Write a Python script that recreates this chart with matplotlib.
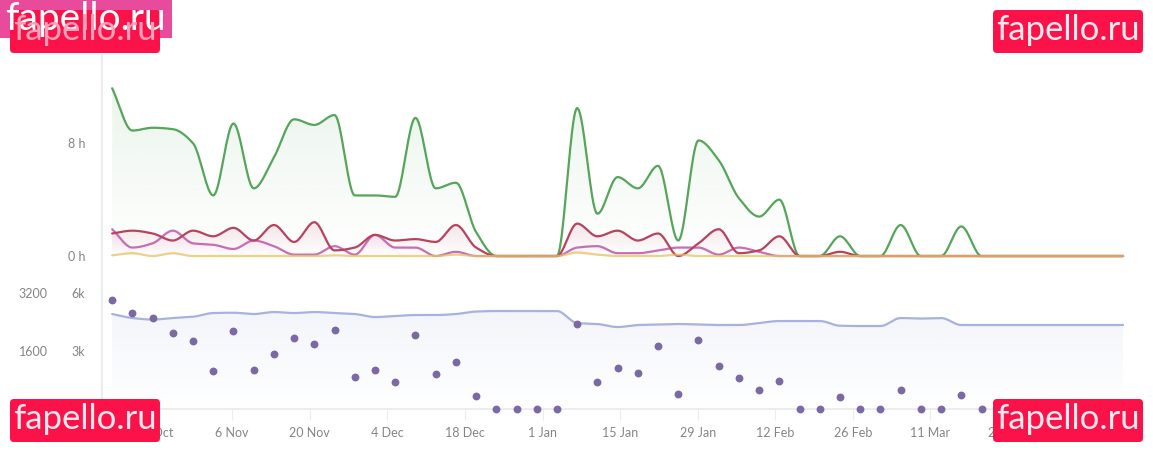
"""Activity chart: hours per period on top, counts below, with site stamps over it."""
import matplotlib
matplotlib.use("Agg")
import matplotlib.dates as mdates
import matplotlib.pyplot as plt
import numpy as np
import pandas as pd
from matplotlib.patches import FancyBboxPatch, PathPatch
from matplotlib.path import Path
from matplotlib.colors import to_rgb

plt.rcParams["font.family"] = ["Lato", "DejaVu Sans"]

W, H = 1153, 453
GREY = "#858585"
AXIS = "#ececec"

periods = pd.date_range("2023-10-15 08:00", "2024-04-14 18:00", periods=51)

green_h = [11.9, 8.9, 9.1, 9.0, 8.0, 4.3, 9.4, 4.8, 7.0, 9.7, 9.3, 10.0, 4.3, 4.3, 4.2, 9.8, 4.8,
           5.2, 1.7, 0, 0, 0, 0, 10.5, 3.0, 5.6, 4.8, 6.4, 1.1, 8.2, 6.8, 4.1, 2.8, 4.0, 0, 0,
           1.4, 0, 0, 2.2, 0, 0, 2.1, 0, 0, 0, 0, 0, 0, 0, 0]
crimson_h = [1.6, 1.8, 1.6, 1.1, 1.8, 1.4, 2.0, 1.1, 2.2, 1.0, 2.4, 0.4, 0.6, 1.5, 1.1, 1.2, 1.0,
             2.2, 0.6, 0, 0, 0, 0, 2.3, 1.4, 1.8, 1.1, 1.6, 0, 0.9, 1.9, 0.2, 0.4, 1.4, 0, 0,
             0.3, 0, 0, 0, 0, 0, 0, 0, 0, 0, 0, 0, 0, 0, 0]
pink_h = [1.9, 0.6, 0.9, 1.8, 0.9, 0.8, 0.5, 1.1, 0.7, 0.1, 0.1, 0.7, 0.1, 1.5, 0.6, 0.6, 0, 0.3,
          0, 0, 0, 0, 0, 0.6, 0.7, 0.2, 0.2, 0.4, 0.6, 0.6, 0.1, 0.6, 0.3, 0, 0, 0,
          0, 0, 0, 0, 0, 0, 0, 0, 0, 0, 0, 0, 0, 0, 0]
yellow_h = [0.05, 0.2, 0, 0.2, 0, 0, 0, 0, 0, 0, 0, 0.05, 0, 0, 0, 0, 0, 0.1,
            0, 0, 0, 0, 0, 0.25, 0.1, 0, 0, 0, 0.1, 0, 0, 0, 0, 0, 0, 0,
            0, 0, 0, 0, 0, 0, 0, 0, 0, 0, 0, 0, 0, 0, 0]
blue_line = [4912, 4705, 4627, 4705, 4772, 4963, 4979, 4912, 5015, 4963, 5015, 4963, 4912, 4756,
             4808, 4860, 4860, 4912, 5041, 5067, 5067, 5067, 5067, 4446, 4395, 4239, 4343, 4369,
             4395, 4369, 4343, 4343, 4446, 4550, 4550, 4550, 4307, 4291, 4291, 4705, 4679, 4705,
             4343, 4343, 4343, 4343, 4343, 4343, 4343, 4343, 4343]
dots = [3005, 2645, 2505, 2090, 1865, 1060, 2145, 1085, 1530, 1950, 1780, 2170, 890, 1085, 750,
        2030, 975, 1310, 360, 0, 0, 0, 0, 2340, 750, 1140, 1000, 1725, 420, 1890, 1195, 865,
        530, 780, 0, 0, 335, 0, 0, 530, 0, 0, 390, 0, 0, 0, 0, 0, 0, 0, 0]

tick_dates = ["2023-10-23", "2023-11-06", "2023-11-20", "2023-12-04", "2023-12-18", "2024-01-01",
              "2024-01-15", "2024-01-29", "2024-02-12", "2024-02-26", "2024-03-11", "2024-03-25",
              "2024-04-08"]
tick_labels = ["23 Oct", "6 Nov", "20 Nov", "4 Dec", "18 Dec", "1 Jan", "15 Jan", "29 Jan",
               "12 Feb", "26 Feb", "11 Mar", "25 Mar", "8 Apr"]


def smooth(x, y, n=20):
    # monotone cubic, same look as the chart: flat at the peaks, no dip under zero
    x, y = np.asarray(x, float), np.asarray(y, float)
    h = np.diff(x)
    d = np.diff(y) / h
    m = np.zeros_like(y)
    m[0], m[-1] = d[0], d[-1]
    for i in range(1, len(y) - 1):
        if d[i - 1] * d[i] > 0:
            m[i] = 2 * d[i - 1] * d[i] / (d[i - 1] + d[i])
    xs, ys = [], []
    for i in range(len(h)):
        t = np.linspace(0, 1, n, endpoint=False)
        xs.append(x[i] + t * h[i])
        ys.append((2 * t**3 - 3 * t**2 + 1) * y[i] + (t**3 - 2 * t**2 + t) * h[i] * m[i]
                  + (-2 * t**3 + 3 * t**2) * y[i + 1] + (t**3 - t**2) * h[i] * m[i + 1])
    return np.append(np.concatenate(xs), x[-1]), np.append(np.concatenate(ys), y[-1])


def area(ax, x, y, color, top_alpha=0.15, lw=1.6, line_alpha=1.0, zorder=3):
    sx, sy = smooth(x, y)
    ramp = np.zeros((256, 1, 4))
    ramp[..., :3] = to_rgb(color)
    ramp[..., 3] = np.linspace(top_alpha, 0, 256)[:, None]
    im = ax.imshow(ramp, extent=(sx[0], sx[-1], 0, max(sy)), aspect="auto", origin="upper",
                   zorder=zorder - 1, interpolation="bilinear")
    verts = np.column_stack([np.r_[sx[0], sx, sx[-1]], np.r_[0, sy, 0]])
    patch = PathPatch(Path(verts), fc="none", ec="none", transform=ax.transData)
    ax.add_patch(patch)
    im.set_clip_path(patch)
    ax.plot(sx, sy, color=color, lw=lw, alpha=line_alpha, zorder=zorder, solid_capstyle="round")


def stamp(ax, x, y, text_color="#ffe9ee"):
    ax.add_patch(FancyBboxPatch((x, y), 150, 43, boxstyle="round,pad=0,rounding_size=4",
                                fc="#fb1249", ec="none"))
    ax.text(x + 75, y + 20, "fapello.ru", color=text_color, fontsize=25, ha="center", va="center")


x = mdates.date2num(periods)
left = mdates.date2num(pd.Timestamp("2023-10-13 12:00"))
right = mdates.date2num(pd.Timestamp("2024-04-16 00:00"))
fig = plt.figure(figsize=(W / 100, H / 100), dpi=100)

# upper panel: hours
ax = fig.add_axes([102 / W, 1 - 280 / H, 1028 / W, 225 / H])
area(ax, x, green_h, "#55a55a", 0.12, zorder=3)
area(ax, x, pink_h, "#c86fb8", 0.12, zorder=4)
area(ax, x, crimson_h, "#b8435f", 0.13, zorder=5)
area(ax, x, yellow_h, "#e9c25c", 0.1, zorder=6, line_alpha=0.75)
ax.set_xlim(left, right)
ax.set_ylim(-1.70, 14.26)
ax.set_yticks([0, 8], ["0 h", "8 h"])
ax.set_xticks([])
ax.tick_params(axis="y", length=0, pad=12, labelsize=9, labelcolor=GREY)
for name in ("top", "right", "bottom"):
    ax.spines[name].set_visible(False)
ax.spines["left"].set_color(AXIS)
ax.spines["left"].set_linewidth(1.5)

# lower panel: line on the k axis, dots on the other one
ax2 = fig.add_axes([102 / W, 1 - 409 / H, 1028 / W, 129 / H])
area(ax2, x, blue_line, "#a8b2dc", 0.13, zorder=3)
ax2.set_xlim(left, right)
ax2.set_ylim(0, 6672)
ax2.set_yticks([3000, 6000], ["3k", "6k"])
ax2.tick_params(axis="y", length=0, pad=12, labelsize=9, labelcolor=GREY)
ax2.set_xticks(mdates.date2num(pd.to_datetime(tick_dates)), tick_labels)
ax2.tick_params(axis="x", length=8, width=0.8, color=AXIS, pad=5, labelsize=9, labelcolor=GREY)
for name in ("top", "right"):
    ax2.spines[name].set_visible(False)
for name in ("left", "bottom"):
    ax2.spines[name].set_color(AXIS)
    ax2.spines[name].set_linewidth(1.5)

ax3 = ax2.twinx()
ax3.scatter(x, dots, s=32, color="#7b69a5", clip_on=False, zorder=6, linewidths=0)
ax3.set_xlim(left, right)
ax3.set_ylim(0, 3558)
ax3.yaxis.tick_left()
ax3.set_yticks([1600, 3200], ["1600", "3200"])
ax3.tick_params(axis="y", length=0, pad=39, labelsize=9, labelcolor=GREY)
for name in ax3.spines:
    ax3.spines[name].set_visible(False)

# stamps over everything, in pixel coordinates
top = fig.add_axes([0, 0, 1, 1], zorder=10)
top.set_xlim(0, W)
top.set_ylim(H, 0)
top.axis("off")
top.patch.set_alpha(0)
top.add_patch(plt.Rectangle((0, 0), 172, 38, fc="#e84a9c", ec="none"))
top.text(5, 19, "fapello.ru", color="white", fontsize=28, ha="left", va="center")
stamp(top, 10, 10, "#ff9fb8")
stamp(top, 993, 10)
stamp(top, 10, 399)
stamp(top, 993, 399)

fig.savefig("out.png", dpi=100, facecolor="white")
plt.close(fig)
